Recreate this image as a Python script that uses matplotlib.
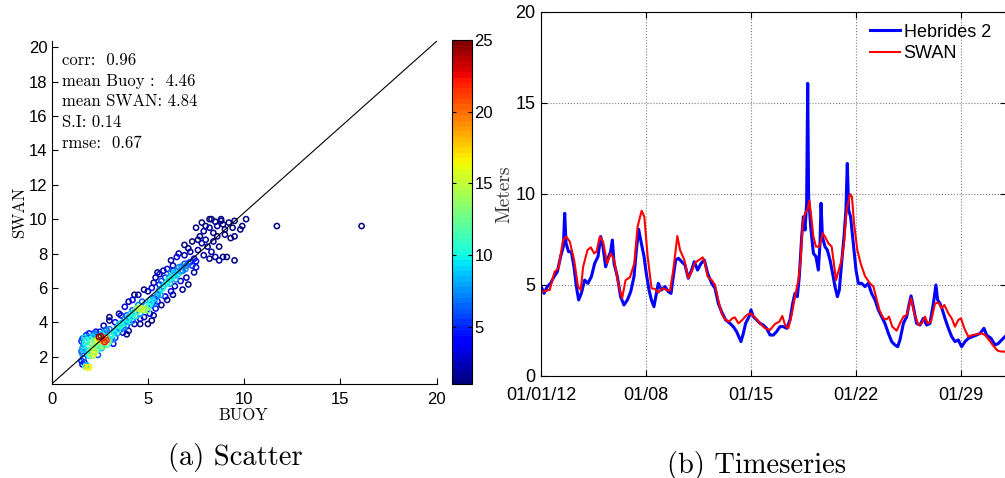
import numpy as np
import matplotlib
matplotlib.use('Agg')
import matplotlib.pyplot as plt
from matplotlib.colors import Normalize
from matplotlib.cm import ScalarMappable

# ---------------- scatter data : buoy Hs vs SWAN Hs, colour = point density
buoy_hs = [1.85, 1.95, 1.75, 1.6, 1.55, 1.65, 1.7, 1.8,
           1.55, 1.6, 1.65, 1.55, 1.6, 1.7, 1.8, 1.85, 1.9, 2.0, 2.05, 2.1, 2.0, 2.15, 2.25, 2.2, 2.3,
           2.25, 2.2, 2.4, 2.45, 2.55, 2.5, 2.6, 2.75, 2.85, 2.8, 2.9, 2.7, 2.5, 2.3, 1.95, 3.0, 3.1,
           3.0, 2.85, 3.2, 2.4, 2.6, 3.3,
           3.3, 3.4, 3.5, 3.6, 3.7, 3.8, 3.9, 4.0, 4.1, 4.2, 4.3, 4.4, 4.6, 4.8, 5.0, 4.5, 4.7, 4.9,
           5.1, 5.2, 3.6, 3.5, 3.8, 4.0, 4.2, 4.5, 4.3, 4.6, 4.8, 5.1, 5.3, 5.4, 3.0, 3.3, 4.0, 3.7,
           5.0, 5.3, 5.5,
           5.5, 5.6, 5.8, 5.7, 6.0, 6.1, 6.2, 6.4, 6.5, 6.6, 6.8, 6.9, 7.0, 7.2, 7.4, 5.6, 5.4, 5.8,
           6.0, 6.3, 6.2, 6.5, 5.9, 6.2, 6.4, 6.7, 7.0, 7.1, 6.8, 7.4, 7.5, 5.2, 5.0, 6.6, 6.9, 7.2,
           7.6, 7.8, 8.0, 7.7, 7.9, 8.2, 8.4, 8.6, 8.8, 8.3, 8.5, 8.9, 9.2, 9.5, 10.1, 9.4, 9.0, 8.1,
           8.3, 8.5, 8.7, 8.9, 8.2, 7.9, 9.5, 9.1, 8.4, 8.7, 9.3, 9.5, 9.8, 7.5, 7.6, 7.3, 7.1, 6.9,
           8.0, 7.8, 9.9, 8.6, 9.0, 8.2, 8.8,
           11.7, 16.1,
           3.0, 2.7, 4.6, 5.2, 3.9, 4.3, 4.8, 5.3, 5.5, 6.0, 6.3, 5.7,
           1.6, 1.7, 1.75, 1.9, 1.95, 2.1, 2.15, 2.35, 2.4, 2.35, 2.55, 2.65, 2.7, 2.95, 3.05, 2.6,
           2.2, 1.8, 3.15, 3.25, 3.4, 3.45, 3.55, 3.65, 3.75, 3.85, 3.95, 4.05, 4.15, 4.25, 4.35,
           4.45, 4.55, 4.7, 4.9, 5.05, 5.15, 5.25, 5.35, 5.45, 5.55, 5.65, 5.75, 5.9, 6.05, 6.15,
           6.25, 6.35, 6.45, 6.55, 6.7, 6.75, 6.95, 7.1, 7.3, 7.5, 4.6, 4.2, 3.9, 5.6, 5.9, 6.3]
swan_hs = [1.38, 1.38, 1.42, 1.55, 1.75, 1.9, 1.65, 1.5,
           2.3, 2.5, 2.7, 2.9, 3.05, 3.1, 2.95, 2.6, 2.35, 2.2, 2.45, 2.75, 3.0, 3.15, 3.25, 2.9, 2.6,
           2.3, 2.15, 2.4, 3.15, 3.2, 2.95, 2.75, 2.85, 2.95, 3.1, 2.7, 3.4, 3.45, 3.45, 3.35, 3.0, 3.3,
           3.6, 3.55, 2.75, 2.1, 2.5, 3.1,
           3.5, 3.7, 3.9, 3.6, 4.0, 4.2, 3.8, 4.3, 4.5, 4.1, 4.6, 4.8, 4.75, 4.7, 4.7, 5.0, 5.2, 5.0,
           5.3, 5.0, 4.4, 4.5, 4.9, 5.2, 5.3, 5.6, 3.9, 4.2, 4.3, 4.5, 4.4, 4.8, 4.1, 4.0, 3.5, 3.4,
           3.9, 5.4, 5.2,
           5.6, 5.9, 6.1, 6.4, 6.3, 6.6, 6.9, 6.7, 7.0, 7.2, 7.0, 7.4, 7.3, 7.5, 7.7, 6.8, 6.6, 7.0,
           7.1, 7.3, 7.6, 7.8, 5.5, 5.8, 6.1, 6.4, 6.6, 6.2, 5.9, 6.9, 7.2, 6.0, 5.8, 8.0, 7.9, 8.1,
           8.2, 8.6, 8.8, 9.0, 9.3, 9.5, 9.2, 9.6, 9.9, 10.0, 9.85, 9.7, 9.8, 9.9, 10.0, 9.5, 9.4, 8.4,
           8.1, 7.8, 7.6, 7.8, 7.7, 7.9, 7.6, 7.8, 8.7, 8.4, 8.9, 9.0, 9.4, 9.5, 8.8, 8.7, 8.3, 8.5,
           9.6, 9.8, 9.6, 9.0, 9.1, 10.0, 10.0,
           9.6, 9.6,
           4.3, 3.8, 3.9, 4.1, 3.3, 5.6, 5.9, 6.3, 6.9, 5.3, 5.6, 5.0,
           2.15, 2.4, 2.8, 3.15, 2.05, 2.05, 2.55, 2.85, 3.05, 2.5, 2.6, 3.0, 2.6, 2.85, 3.15, 3.3,
           3.35, 3.25, 3.0, 3.4, 3.35, 3.55, 3.8, 3.85, 3.7, 4.0, 4.15, 4.0, 4.3, 4.45, 4.35,
           4.6, 4.85, 4.8, 4.8, 4.95, 5.15, 5.3, 5.1, 5.45, 5.75, 5.6, 5.95, 6.2, 6.45, 6.25,
           6.6, 6.85, 6.5, 6.8, 6.95, 7.25, 7.1, 7.45, 7.3, 7.55, 4.5, 4.7, 4.4, 6.2, 6.6, 7.0]
density = [17, 16, 12, 4, 5, 6, 3, 8,
           6, 8, 7, 5, 6, 9, 11, 10, 9, 12, 13, 12, 10, 9, 8, 14, 12,
           15, 16, 10, 25, 24, 18, 12, 22, 21, 20, 10, 8, 5, 4, 4, 9, 10,
           7, 6, 4, 6, 8, 5,
           7, 8, 9, 6, 8, 7, 5, 8, 9, 6, 8, 13, 15, 14, 12, 7, 6, 8,
           8, 6, 3, 2, 3, 2, 3, 2, 2, 3, 2, 3, 2, 4, 2, 3, 2, 3,
           1, 5, 4,
           6, 7, 8, 6, 9, 8, 7, 9, 8, 7, 6, 6, 7, 5, 4, 3, 2, 2,
           3, 2, 2, 3, 3, 3, 2, 3, 2, 1, 2, 2, 3, 3, 2, 2, 2, 2,
           2, 2, 2, 1, 2, 2, 1, 2, 1, 1, 1, 1, 1, 1, 1, 1, 1, 2,
           2, 2, 2, 1, 1, 2, 1, 1, 2, 1, 1, 1, 1, 1, 1, 1, 1, 1,
           1, 1, 1, 1, 1, 1, 1,
           1, 1,
           1, 2, 1, 1, 1, 1, 1, 1, 1, 1, 1, 1,
           7, 9, 10, 8, 10, 14, 13, 14, 16, 12, 11, 19, 14, 13, 11, 9,
           6, 5, 8, 9, 8, 10, 11, 10, 8, 9, 10, 8, 10, 11, 9,
           12, 14, 15, 13, 10, 10, 9, 7, 8, 9, 8, 10, 10, 11, 8,
           10, 9, 7, 9, 8, 7, 7, 6, 5, 4, 8, 6, 6, 5, 5, 5]

stats_lines = ['corr:  0.96', 'mean Buoy :  4.46', 'mean SWAN: 4.84', 'S.I: 0.14', 'rmse:  0.67']

# ---------------- timeseries (days after 2012-01-01 00:00, metres)
buoy_days = [0.02, 0.2, 0.42, 0.64, 0.87, 1.09, 1.31, 1.49, 1.58, 1.67, 1.84, 2.02, 2.2, 2.36, 2.51,
             2.69, 2.91, 3.13, 3.36, 3.58, 3.8, 3.98, 4.13, 4.31, 4.47, 4.64, 4.76, 4.87, 5.09, 5.31,
             5.53, 5.76, 5.98, 6.2, 6.36, 6.51, 6.69, 6.87, 7.02, 7.2, 7.36, 7.53,
             7.69, 7.82, 8.04, 8.27, 8.49, 8.67, 8.82, 8.98, 9.16, 9.38, 9.6, 9.82, 10.04, 10.22,
             10.44, 10.67, 10.89, 11.11, 11.38, 11.6, 11.82, 12.04, 12.31, 12.6, 12.82, 13.04, 13.33,
             13.49, 13.64, 13.87, 14.0, 14.16, 14.38, 14.6, 14.82, 15.04,
             15.27, 15.49, 15.71, 15.93, 16.16, 16.38, 16.6, 16.78, 16.93, 17.09, 17.22, 17.38, 17.49,
             17.6, 17.71, 17.78, 17.84, 17.98, 18.16, 18.33, 18.49, 18.6, 18.67, 18.76, 18.93, 19.09,
             19.27, 19.44, 19.6, 19.76, 19.89, 20.04, 20.2, 20.33, 20.42, 20.51, 20.64, 20.82, 21.0,
             21.16, 21.38, 21.6, 21.82, 22.04, 22.27, 22.49, 22.71, 22.93,
             23.16, 23.38, 23.6, 23.78, 23.93, 24.16, 24.38, 24.53, 24.67, 24.82, 25.04, 25.27, 25.49,
             25.71, 25.93, 26.16, 26.33, 26.44, 26.6, 26.76, 26.93, 27.16, 27.38, 27.6, 27.82, 28.04,
             28.27, 28.49, 28.76, 29.04, 29.27, 29.53, 29.71, 30.0, 30.27, 30.49, 30.71, 30.93]
buoy_vals = [4.91, 4.54, 4.91, 5.09, 5.46, 5.73, 6.56, 7.11, 8.94, 7.29, 6.83, 6.83, 6.0, 4.91, 4.18,
             4.54, 5.27, 5.09, 5.46, 6.19, 6.56, 7.66, 7.11, 6.0, 6.47, 6.83, 7.47, 6.19, 5.46, 4.36,
             3.90, 4.18, 4.63, 5.46, 6.92, 8.06, 7.29, 6.56, 5.64, 4.73, 4.18, 3.81,
             4.5, 5.09, 4.73, 4.91, 4.63, 4.54, 5.46, 6.37, 6.47, 6.28, 6.1, 5.37, 5.82, 6.28,
             5.82, 6.19, 6.37, 5.64, 5.09, 4.82, 3.99, 3.53, 3.08, 2.89, 2.71, 2.44, 1.89,
             2.34, 2.89, 3.26, 3.63, 3.26, 3.08, 2.89, 2.8, 2.62,
             2.25, 2.25, 2.44, 2.71, 2.71, 2.62, 3.08, 3.99, 4.54, 4.36, 5.46, 7.66, 8.75,
             8.02, 9.49, 16.08, 9.85, 8.21, 6.74, 6.56, 5.82, 7.29, 9.49, 7.66, 7.11, 6.92,
             6.37, 5.64, 4.91, 4.36, 4.73, 6.19, 7.66, 9.12, 11.68, 9.12, 8.75, 7.29, 5.82,
             5.09, 5.09, 4.91, 5.09, 4.54, 4.18, 3.63, 3.26, 2.89,
             2.34, 1.89, 1.70, 1.61, 1.98, 2.89, 3.26, 3.90, 4.40, 3.81, 2.89, 2.80, 3.17,
             2.80, 2.89, 3.99, 5.0, 4.18, 3.99, 3.63, 3.17, 2.62, 2.16, 1.89, 1.98, 1.61,
             1.89, 2.07, 2.16, 2.25, 2.34, 2.62, 2.25, 2.07, 1.70, 1.79, 1.98, 2.16]

swan_days = [0.02, 0.58, 0.91, 1.17, 1.47, 1.69, 1.92, 2.21, 2.47, 2.65, 2.81, 3.10, 3.32, 3.54,
             3.70, 3.92, 4.14, 4.41, 4.66, 4.88, 5.15, 5.41, 5.64, 5.93, 6.22, 6.44, 6.71, 6.89,
             7.11, 7.37,
             7.6, 7.82, 8.09, 8.38, 8.6, 8.82, 9.09, 9.27, 9.56, 9.82, 10.04, 10.27, 10.53, 10.78,
             10.93, 11.11, 11.38, 11.6, 11.82, 12.04, 12.27, 12.53, 12.76, 12.93, 13.16, 13.42,
             13.71, 13.98, 14.27, 14.6, 14.93,
             15.27, 15.6, 15.89, 16.09, 16.27, 16.49, 16.71, 16.93, 17.16, 17.31, 17.44, 17.6,
             17.76, 17.89, 18.02, 18.16, 18.33, 18.56, 18.78, 18.93, 19.16, 19.38, 19.67, 19.82,
             20.04, 20.2, 20.38, 20.6, 20.73, 20.87, 21.09, 21.31, 21.6, 21.93, 22.16, 22.33,
             22.56, 22.82,
             23.04, 23.2, 23.42, 23.71, 23.93, 24.16, 24.38, 24.67, 24.89, 25.16, 25.38, 25.6,
             25.78, 26.0, 26.27, 26.49, 26.71, 26.89, 27.16, 27.38, 27.6, 27.82, 28.0, 28.22,
             28.49, 28.76, 29.04, 29.38, 29.6, 29.87, 30.16, 30.44, 30.71, 30.93]
swan_vals = [4.63, 4.73, 5.73, 5.92, 7.47, 7.66, 7.38, 6.37, 4.91, 4.73, 6.0, 6.92, 7.07, 6.74,
             6.83, 7.66, 7.38, 6.19, 6.74, 6.37, 5.09, 4.27, 5.27, 5.42, 6.19, 8.21, 9.08, 8.75,
             6.56, 4.82,
             4.78, 4.58, 4.82, 4.73, 4.69, 5.82, 7.69, 6.92, 6.37, 5.37, 5.73, 6.23, 6.37, 6.52,
             6.19, 5.46, 5.27, 5.0, 4.18, 3.44, 3.11, 2.99, 3.17, 3.22, 2.89, 3.08,
             3.35, 3.44, 3.22, 2.89, 2.62,
             2.53, 2.86, 2.99, 3.30, 2.80, 2.62, 3.35, 4.36, 5.27, 6.37, 8.39, 8.94,
             9.12, 9.63, 8.75, 7.66, 7.11, 7.11, 7.84, 7.66, 7.29, 7.11, 5.27, 5.73,
             6.37, 7.29, 9.12, 10.0, 9.85, 8.39, 6.92, 6.19, 5.49, 5.09, 4.91, 4.36,
             3.63, 3.17,
             3.11, 3.26, 2.71, 2.49, 2.89, 3.26, 3.35, 4.27, 3.44, 2.80, 2.89, 3.26,
             2.89, 2.99, 3.99, 4.03, 3.72, 3.90, 3.44, 3.17, 2.71, 3.08, 3.17, 2.62,
             2.16, 2.25, 2.29, 2.34, 2.25, 1.98, 1.65, 1.39, 1.34, 1.34]

tick_dates = ['2012-01-01', '2012-01-08', '2012-01-15', '2012-01-22', '2012-01-29']
tick_labels = ['01/01/12', '01/08', '01/15', '01/22', '01/29']

CM = 'cmr10'
SANS = 'Liberation Sans'

fig = plt.figure(figsize=(10.05, 4.78), dpi=100)

# ================= (a) scatter
ax1 = fig.add_axes([0.0514, 0.1967, 0.3831, 0.717])
cmap = plt.get_cmap('jet', 64)
norm = Normalize(vmin=1, vmax=25)
order = np.argsort(density, kind='stable')
bx = np.array(buoy_hs)[order]
sy = np.array(swan_hs)[order]
dd = np.array(density)[order]
ax1.scatter(bx, sy, s=14, facecolors='none', edgecolors=cmap(norm(dd)), linewidths=1.1,
            marker='o', zorder=2)
ax1.set_xlim(0, 20)
ax1.set_ylim(0.41, 20.35)
ax1.plot(ax1.get_xlim(), ax1.get_ylim(), color='k', lw=0.8, zorder=3)
ax1.set_xticks([0, 5, 10, 15, 20])
ax1.set_yticks(np.arange(2, 21, 2))
for s in ['top', 'right']:
    ax1.spines[s].set_visible(False)
for s in ['left', 'bottom']:
    ax1.spines[s].set_linewidth(0.8)
ax1.tick_params(direction='in', length=4, width=0.8, labelsize=12, pad=3)
ax1.tick_params(axis='x', pad=6)
for lab in ax1.get_xticklabels() + ax1.get_yticklabels():
    lab.set_family(SANS)
ax1.set_xlabel('BUOY', family=CM, fontsize=12)
ax1.set_ylabel('SWAN', family=CM, fontsize=12)
ax1.xaxis.set_label_coords(0.497, -0.07)
ax1.yaxis.set_label_coords(-0.064, 0.5)
for i, line in enumerate(stats_lines):
    ax1.text(0.027, 0.945 - i * 0.0607, line, transform=ax1.transAxes, family=CM,
             fontsize=12, va='center', ha='left')

cax = fig.add_axes([0.4494, 0.1967, 0.0199, 0.7197])
sm = ScalarMappable(norm=norm, cmap=cmap)
cb = fig.colorbar(sm, cax=cax, ticks=[5, 10, 15, 20, 25])
cb.outline.set_linewidth(0.8)
cax.tick_params(direction='in', length=3, width=0.8, labelsize=12, pad=2,
                left=True, right=True)
for lab in cax.get_yticklabels():
    lab.set_family(SANS)

# ================= (b) timeseries
def to_time(days):
    return np.datetime64('2012-01-01T00:00') + (np.array(days) * 1440).astype('timedelta64[m]')

ax2 = fig.add_axes([0.5383, 0.2134, 0.4627, 0.7615])
ax2.plot(to_time(buoy_days), buoy_vals, color='#0000ff', lw=2.2, label='Hebrides 2')
ax2.plot(to_time(swan_days), swan_vals, color='#ff0000', lw=1.5, label='SWAN')
ax2.set_xlim(np.datetime64('2012-01-01T00:00'), np.datetime64('2012-02-01T00:00'))
ax2.set_ylim(0, 20)
ax2.set_xticks(np.array(tick_dates, dtype='datetime64[m]'))
ax2.set_xticklabels(tick_labels)
ax2.set_yticks([0, 5, 10, 15, 20])
ax2.grid(True, linestyle=':', color='#7f7f7f', lw=0.8)
for s in ax2.spines.values():
    s.set_linewidth(0.8)
ax2.tick_params(direction='in', length=4, width=0.8, labelsize=13, pad=4,
                top=True, right=True)
ax2.tick_params(axis='x', pad=8)
for lab in ax2.get_xticklabels() + ax2.get_yticklabels():
    lab.set_family(SANS)
ax2.set_ylabel('Meters', family=CM, fontsize=14, color='#333333')
ax2.yaxis.set_label_coords(-0.060, 0.5)
leg = ax2.legend(loc='upper left', bbox_to_anchor=(0.708, 0.968), frameon=False,
                 prop={'family': SANS, 'size': 13}, handlelength=1.65, handletextpad=0.2,
                 labelspacing=0.25, borderpad=0, borderaxespad=0)

# captions
fig.text(235 / 1005, 1 - 458 / 478, '(a) Scatter', family=CM, fontsize=20.5,
         ha='center', va='center')
fig.text(757 / 1005, 1 - 465 / 478, '(b) Timeseries', family=CM, fontsize=20.5,
         ha='center', va='center')

fig.savefig('out.png', dpi=100)
